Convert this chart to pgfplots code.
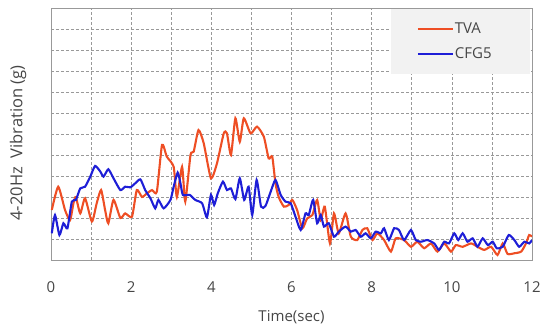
\documentclass[border=0pt]{standalone}
\usepackage{pgfplots}
\pgfplotsset{compat=1.18}
\usepackage{fontspec}
\setmainfont{Open Sans}
\definecolor{tvared}{RGB}{238,78,36}
\definecolor{cfgblue}{RGB}{30,30,215}
\definecolor{txtgray}{RGB}{70,70,70}
\begin{document}
\begin{tikzpicture}
\begin{axis}[
  scale only axis,
  width=481pt, height=252pt,
  xmin=0, xmax=12, ymin=0, ymax=12,
  xtick={0,2,...,12},
  minor xtick={1,3,...,11},
  ytick={1,...,11},
  yticklabels={},
  major tick length=0pt, minor tick length=0pt,
  grid=both,
  major grid style={gray!80, densely dashed, line width=0.6pt},
  minor grid style={gray!80, densely dashed, line width=0.6pt},
  axis line style={gray!80, line width=0.8pt},
  /pgf/number format/assume math mode=true,
  xticklabel style={font=\fontsize{15}{18}\selectfont, text=txtgray, yshift=-18pt},
  xlabel={Time(sec)},
  xlabel style={font=\fontsize{15}{18}\selectfont, text=txtgray, at={(axis description cs:0.5,0)}, anchor=center, yshift=-57pt},
  ylabel={4-20Hz\ \ Vibration (g)},
  ylabel style={font=\fontsize{16.5}{19}\selectfont, text=txtgray, at={(axis description cs:-0.0686,0.464)}, anchor=center},
  legend style={at={(axis description cs:0.996,0.998)}, anchor=north east, fill=gray!10, draw=none,
    font=\fontsize{15}{18}\selectfont, text=txtgray, inner xsep=26pt, inner ysep=13pt, row sep=11pt,
    nodes={inner sep=1pt, text width=48pt}},
  legend cell align=left,
  legend image code/.code={\draw[#1] (0pt,0pt) -- (35pt,0pt);},
  every axis plot/.append style={smooth, tension=0.35},
]
\addplot[tvared, line width=2.1pt] coordinates {
(0.02,2.38) (0.18,3.49) (0.35,2.38) (0.475,1.9) (0.56,2.7) (0.62,3.0) (0.73,2.22) (0.85,2.94)
(1.02,1.83) (1.14,2.7) (1.25,3.33) (1.35,2.38) (1.43,1.75) (1.56,2.86) (1.73,2.0) (1.85,2.22)
(2.02,2.06) (2.14,3.33) (2.27,3.0) (2.39,3.17) (2.52,3.33) (2.64,3.25) (2.77,5.48) (2.89,4.92)
(3.06,4.44) (3.14,3.0) (3.27,4.44) (3.35,2.78) (3.48,5.0) (3.56,5.16) (3.68,6.19) (3.81,5.56)
(3.99,3.89) (4.14,4.6) (4.31,6.03) (4.39,6.03) (4.49,5.0) (4.6,6.75) (4.71,5.63) (4.81,6.75)
(4.98,6.03) (5.14,6.35) (5.31,5.87) (5.43,4.84) (5.52,4.92) (5.6,3.65) (5.68,3.0) (5.81,2.54)
(5.93,2.62) (6.02,2.86) (6.14,2.38) (6.27,1.51) (6.39,1.98) (6.52,2.14) (6.64,2.86) (6.73,1.9)
(6.83,2.54) (6.96,0.79) (7.06,2.22) (7.18,1.27) (7.35,2.22) (7.48,1.11) (7.64,0.95) (7.77,1.43)
(7.89,1.51) (8.02,0.95) (8.14,1.27) (8.31,0.95) (8.48,0.4) (8.6,1.03) (8.81,0.95) (8.98,0.63)
(9.14,0.87) (9.31,0.56) (9.48,0.79) (9.64,0.4) (9.81,0.79) (9.98,0.4) (10.1,0.71) (10.27,0.63)
(10.48,0.79) (10.64,0.63) (10.81,0.48) (10.98,0.63) (11.14,0.24) (11.27,0.79) (11.39,0.29) (11.56,0.32)
(11.73,0.4) (11.85,0.79) (11.93,1.19) (12.0,1.11)
};
\addlegendentry{TVA}
\addplot[cfgblue, line width=2.1pt] coordinates {
(0.02,1.27) (0.1,2.14) (0.21,1.19) (0.31,1.75) (0.41,1.51) (0.52,2.78) (0.62,2.86) (0.73,3.41)
(0.85,3.49) (0.98,3.97) (1.1,4.48) (1.23,4.21) (1.31,3.97) (1.43,4.32) (1.56,3.89) (1.73,3.33)
(1.85,3.49) (1.98,3.46) (2.1,3.65) (2.23,3.84) (2.35,3.33) (2.48,2.94) (2.6,2.46) (2.68,2.86)
(2.81,2.46) (2.98,2.86) (3.06,3.49) (3.16,4.16) (3.23,3.65) (3.29,3.1) (3.46,3.1) (3.6,2.86)
(3.77,2.7) (3.89,2.03) (3.99,3.1) (4.07,2.62) (4.16,3.17) (4.29,3.73) (4.39,3.33) (4.49,3.41)
(4.6,2.9) (4.71,3.89) (4.82,2.86) (4.93,3.49) (5.02,2.14) (5.13,3.81) (5.24,2.54) (5.35,2.57)
(5.48,3.25) (5.6,3.81) (5.73,3.1) (5.85,2.78) (5.98,2.7) (6.1,2.06) (6.23,1.43) (6.35,2.22)
(6.43,2.14) (6.54,2.86) (6.64,1.75) (6.73,2.14) (6.81,1.59) (6.93,1.75) (7.06,1.11) (7.18,1.35)
(7.35,1.59) (7.48,1.35) (7.6,1.43) (7.73,1.11) (7.85,1.27) (7.98,1.03) (8.1,1.35) (8.23,1.27)
(8.31,1.51) (8.43,0.95) (8.56,1.51) (8.68,1.43) (8.81,0.95) (8.98,1.43) (9.1,0.95) (9.23,0.87)
(9.39,0.95) (9.56,0.79) (9.68,0.48) (9.81,0.87) (9.93,0.79) (10.06,1.27) (10.16,0.95) (10.27,1.27)
(10.39,0.87) (10.52,1.03) (10.64,0.63) (10.77,1.03) (10.9,0.71) (11.02,0.87) (11.12,0.56) (11.27,0.63)
(11.42,1.19) (11.56,0.95) (11.68,0.63) (11.81,0.87) (11.93,0.79) (12.0,0.95)
};
\addlegendentry{CFG5}
\end{axis}
\pgfresetboundingbox
\path (current axis.south west) ++(-51pt,-69pt) coordinate (bbA);
\path (current axis.north east) ++(12pt,8pt) coordinate (bbB);
\path (bbA) rectangle (bbB);
\end{tikzpicture}
\end{document}
